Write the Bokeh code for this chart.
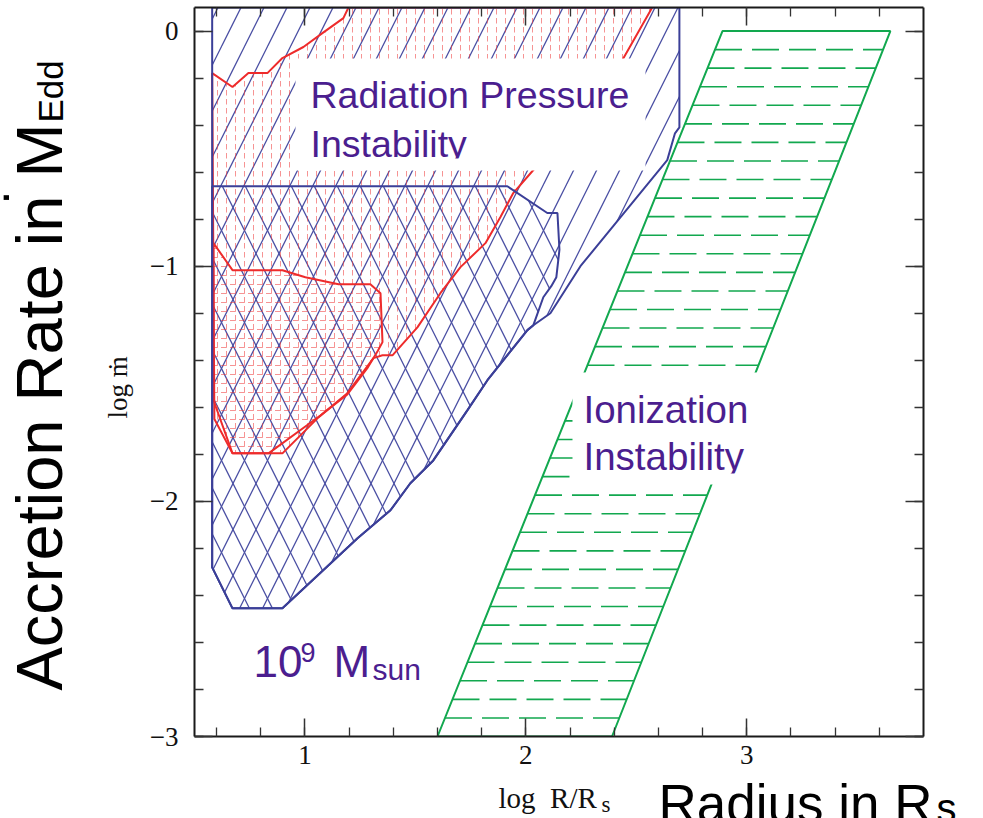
import numpy as np
from bokeh.plotting import figure
from bokeh.layouts import column, row
from bokeh.models import FixedTicker, LinearAxis, Label, BoxAnnotation
from bokeh.embed import file_html
from bokeh.resources import INLINE

# ---------------------------------------------------------------
# Instability zones of a 1e9 Msun disc in the (log R/Rs, log mdot) plane
# ---------------------------------------------------------------

# lower envelope shared by both radiation-pressure zones
lower_x = [2.007, 1.826, 1.735, 1.581, 1.477, 1.387, 1.238, 0.898, 0.672, 0.58]
lower_y = [-1.272, -1.485, -1.613, -1.826, -1.923, -2.038, -2.157, -2.455, -2.455, -2.281]

# outer zone (single "/" hatch)
outer_top_x = [0.58, 2.695, 2.695, 2.675, 2.64, 2.247, 2.111, 2.034]
outer_top_y = [0.10, 0.10, -0.41, -0.435, -0.549, -1.00, -1.20, -1.251]

# inner zone (adds "\" hatch -> cross hatch)
inner_top_x = [0.58, 1.916, 2.097, 2.143, 2.152, 2.138, 2.115, 2.079, 2.034]
inner_top_y = [-0.66, -0.66, -0.774, -0.774, -0.93, -1.047, -1.085, -1.132, -1.251]

# red contours (dotted)
red_outer_x = [0.58, 0.672, 0.744, 0.83, 0.898, 0.993, 1.079, 1.174, 1.197, 2.572, 2.437,
               2.034, 1.943, 1.885, 1.817, 1.704, 1.613, 1.509, 1.396, 1.351, 1.31, 1.192,
               1.061, 0.898, 0.672, 0.59]
red_outer_y = [-0.179, -0.238, -0.179, -0.179, -0.115, -0.068, -0.009, 0.055, 0.10, 0.10, -0.123,
               -0.591, -0.689, -0.791, -0.902, -1.004, -1.115, -1.26, -1.379, -1.379, -1.391, -1.54,
               -1.643, -1.796, -1.796, -1.65]
red_inner_x = [0.586, 0.672, 0.898, 1.002, 1.152, 1.296, 1.342, 1.351, 1.33, 1.285, 1.192,
               1.07, 0.835, 0.672, 0.586]
red_inner_y = [-0.902, -1.017, -1.017, -1.047, -1.077, -1.077, -1.115, -1.323, -1.36, -1.43, -1.545,
               -1.635, -1.796, -1.796, -1.57]

# ionization instability strip (parallelogram)
ion_x = [1.60, 2.39, 3.65, 2.89]
ion_y = [-3.0, -3.0, 0.0, 0.0]

# axes
x_major = [1, 2, 3]
y_major = [-3, -2, -1, 0]
x_labels = {1: "1", 2: "2", 3: "3"}
y_labels = {0: "0", -1: "\u22121", -2: "\u22122", -3: "\u22123"}

X_RANGE = (0.5, 3.8)
Y_RANGE = (-3.0, 0.1)

# ---------------------------------------------------------------
W, H = 983, 818
LEFT_W = 140          # strip holding the vertical titles
BOTTOM_H = 38         # strip holding the horizontal titles
MAIN_W, MAIN_H = W - LEFT_W, H - BOTTOM_H
FL, FR, FT, FB = 194, 923, 7, 736          # frame edges in page pixels
SX = (FR - FL) / (X_RANGE[1] - X_RANGE[0])
SY = (FB - FT) / (Y_RANGE[1] - Y_RANGE[0])
BASE_SHIFT = 0.37     # alphabetic baseline correction (em)


def px_x(px):
    return X_RANGE[0] + (px - FL) / SX


def px_y(py):
    return Y_RANGE[1] - (py - FT) / SY


BLUE = "#3b3f98"
BLUE_HATCH = "#4a4fa3"
RED = "#ee2b2b"
RED_DOT = "#ee3a3a"
GREEN = "#12a84f"
PURPLE = "#4b1e8f"

p = figure(width=MAIN_W, height=MAIN_H, x_range=X_RANGE, y_range=Y_RANGE,
           output_backend="svg", toolbar_location=None,
           min_border_left=FL - LEFT_W, min_border_right=W - FR,
           min_border_top=FT, min_border_bottom=MAIN_H - FB)
p.background_fill_color = "white"
p.border_fill_color = "white"
p.outline_line_color = None
p.xgrid.visible = False
p.ygrid.visible = False

# --- ionization strip: dashed horizontal hatch between the two slanted edges
ion_left_x = [ion_x[0], ion_x[3]]
ion_right_x = [ion_x[1], ion_x[2]]
edge_y = [ion_y[0], ion_y[3]]
levels = -np.arange(1, 38) * 3.0 / 38.0
hx = [[float(np.interp(v, edge_y, ion_left_x)), float(np.interp(v, edge_y, ion_right_x))] for v in levels]
hy = [[float(v), float(v)] for v in levels]
p.multi_line(hx, hy, line_color=GREEN, line_width=1.6, line_dash="27 10")
p.patch(ion_x, ion_y, fill_color=None, line_color=GREEN, line_width=2)

# --- radiation pressure zones
zone_a_x = outer_top_x + lower_x
zone_a_y = outer_top_y + lower_y
zone_b_x = inner_top_x + lower_x
zone_b_y = inner_top_y + lower_y

p.patch(zone_a_x, zone_a_y, fill_color=None, line_color=None,
        hatch_pattern="/", hatch_color=BLUE_HATCH, hatch_scale=46, hatch_weight=1.3)
p.patch(zone_b_x, zone_b_y, fill_color=None, line_color=None,
        hatch_pattern="\\", hatch_color=BLUE_HATCH, hatch_scale=46, hatch_weight=1.3)
p.patch(red_outer_x, red_outer_y, fill_color=None, line_color=None,
        hatch_pattern=":", hatch_color=RED_DOT, hatch_scale=9, hatch_weight=1, hatch_alpha=0.55)
p.patch(red_inner_x, red_inner_y, fill_color=None, line_color=None,
        hatch_pattern='"', hatch_color=RED_DOT, hatch_scale=9, hatch_weight=1, hatch_alpha=0.55)

p.patch(red_outer_x, red_outer_y, fill_color=None, line_color=RED, line_width=2)
p.patch(red_inner_x, red_inner_y, fill_color=None, line_color=RED, line_width=2)
p.patch(zone_a_x, zone_a_y, fill_color=None, line_color=BLUE, line_width=2)
p.patch(zone_b_x, zone_b_y, fill_color=None, line_color=BLUE, line_width=2)

# --- axes: ticks inward on all four sides
x_minor = [round(0.6 + 0.2 * i, 1) for i in range(16)]
y_minor = [round(-3.0 + 0.2 * i, 1) for i in range(16)]


def style_axis(ax):
    ax.major_tick_in = 18
    ax.major_tick_out = 0
    ax.minor_tick_in = 9
    ax.minor_tick_out = 0
    ax.axis_line_width = 2
    ax.axis_line_color = "#1a1a1a"
    ax.major_tick_line_color = "#333333"
    ax.minor_tick_line_color = "#333333"
    ax.major_tick_line_width = 1.5
    ax.minor_tick_line_width = 1.3


xa = p.xaxis[0]
xa.ticker = FixedTicker(ticks=x_major, minor_ticks=x_minor)
xa.major_label_overrides = x_labels
xa.major_label_text_font = "Liberation Serif"
xa.major_label_text_font_size = "27px"
xa.major_label_text_color = "#111111"
xa.major_label_standoff = 9
style_axis(xa)

ya = p.yaxis[0]
ya.ticker = FixedTicker(ticks=y_major, minor_ticks=y_minor)
ya.major_label_overrides = y_labels
ya.major_label_text_font = "Liberation Serif"
ya.major_label_text_font_size = "27px"
ya.major_label_text_color = "#111111"
ya.major_label_standoff = 16
style_axis(ya)

# mirrored tick marks on the top and right edges (no labels there)
for loc, ticks, minor in (("above", x_major, x_minor), ("right", y_major, y_minor)):
    ax = LinearAxis(ticker=FixedTicker(ticks=ticks, minor_ticks=minor),
                    major_label_text_font_size="1px", major_label_text_color=None,
                    major_label_text_alpha=0, major_label_standoff=0)
    style_axis(ax)
    p.add_layout(ax, loc)

# --- white boxes behind the zone names
p.add_layout(BoxAnnotation(left=px_x(295), right=px_x(645), top=px_y(58), bottom=px_y(170),
                           fill_color="white", fill_alpha=1, line_color=None))
p.add_layout(BoxAnnotation(left=px_x(572), right=px_x(765), top=px_y(372), bottom=px_y(484),
                           fill_color="white", fill_alpha=1, line_color=None))


def label(fig, x, y, text, size, color=PURPLE, font="Liberation Sans", vertical=False):
    """Place a text with its alphabetic baseline at (x, y) in the figure's data units.
    For the pixel-scaled strips data units are page pixels (y growing downward)."""
    if vertical:
        x = x - BASE_SHIFT * size
    fig.add_layout(Label(x=x, y=y, text=text, text_font=font,
                         text_font_size=f"{size}px", text_color=color,
                         angle=np.pi / 2 if vertical else 0.0,
                         text_align="left", text_baseline="alphabetic"))


def main_label(px, py, text, size):
    label(p, px_x(px), px_y(py - BASE_SHIFT * size), text, size)


main_label(310, 108, "Radiation Pressure", 37.5)
main_label(310, 157, "Instability", 37.5)
main_label(583, 423, "Ionization", 38.5)
main_label(583, 470, "Instability", 38.5)

main_label(253, 677, "10", 44)
main_label(300, 662, "9", 27)
main_label(333, 677, "M", 44)
main_label(372, 680, "sun", 30)

# the zone names are cut off just below their baseline
p.add_layout(BoxAnnotation(left=px_x(305), right=px_x(640), top=px_y(158), bottom=px_y(169),
                           fill_color="white", fill_alpha=1, line_color=None))
p.add_layout(BoxAnnotation(left=px_x(578), right=px_x(762), top=px_y(473), bottom=px_y(483),
                           fill_color="white", fill_alpha=1, line_color=None))


def strip(w, h, y_span):
    f = figure(width=w, height=h, x_range=(0, w), y_range=y_span,
               output_backend="svg", toolbar_location=None,
               x_axis_type=None, y_axis_type=None,
               min_border=0, min_border_left=0, min_border_right=0,
               min_border_top=0, min_border_bottom=0)
    f.outline_line_color = None
    f.background_fill_color = "white"
    f.border_fill_color = "white"
    return f


# vertical titles: this strip's frame lines up with the main frame (page y FT..FB)
left = strip(LEFT_W, MAIN_H, (FB, FT))
label(left, 63, 690, "Accretion Rate in M", 65, color="black", vertical=True)
label(left, 63, 122, "Edd", 35, color="black", vertical=True)
label(left, 9, 204, ".", 50, color="black", vertical=True)
label(left, 127, 418, "log \u1e41", 27, color="#111111", font="Liberation Serif", vertical=True)

# horizontal titles (page y measured from the strip's top)
bottom = strip(W, BOTTOM_H, (BOTTOM_H, 0))
y0 = MAIN_H
label(bottom, 498, 808 - y0 - BASE_SHIFT * 29, "log\u2002R/R", 29, color="#111111", font="Liberation Serif")
label(bottom, 601, 813 - y0 - BASE_SHIFT * 23, "s", 23, color="#111111", font="Liberation Serif")
label(bottom, 658, 823 - y0 - BASE_SHIFT * 53, "Radius in R", 53, color="black")
label(bottom, 936, 822 - y0 - BASE_SHIFT * 40, "s", 40, color="black")

page = column(row(left, p), bottom)
open("out.html", "w").write(file_html(page, INLINE))
